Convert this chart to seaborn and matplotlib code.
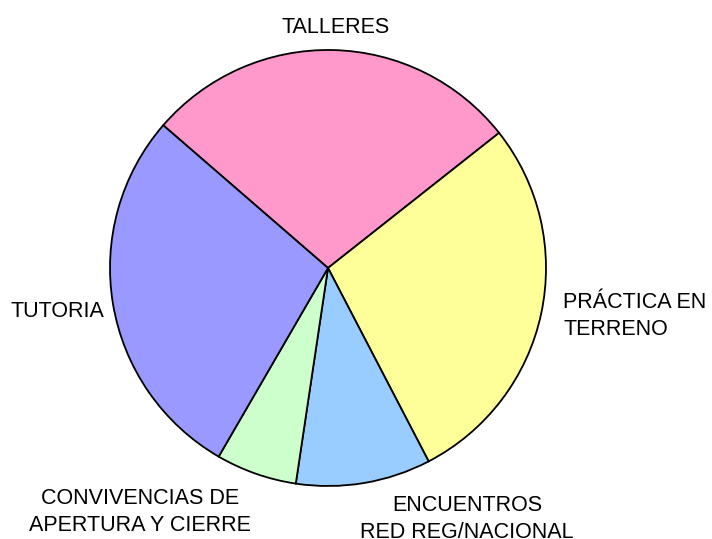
import matplotlib
matplotlib.use('Agg')
import matplotlib.pyplot as plt
import seaborn as sns

sns.set_style('white')
plt.rcParams['font.family'] = ['Liberation Sans', 'DejaVu Sans']
plt.rcParams['text.color'] = 'black'

# activity shares (percent), clockwise from TALLERES
categorias = ['TALLERES', 'PRÁCTICA EN\nTERRENO', 'ENCUENTROS\nRED REG/NACIONAL',
              'CONVIVENCIAS DE\nAPERTURA Y CIERRE', 'TUTORIA']
valores = [28, 28, 10, 6, 28]
colores = ['#FF99CC', '#FFFF99', '#99CCFF', '#CCFFCC', '#9999FF']

# label placement (data units, radius = 1) and alignment
pos_labels = [(0.037, 1.105), (1.078, -0.22), (0.638, -1.15), (-0.862, -1.12), (-1.028, -0.20)]
alin_labels = ['center', 'left', 'center', 'center', 'right']

fig = plt.figure(figsize=(7.12, 5.39), dpi=100)
ax = fig.add_axes([0, 0, 1, 1])

ax.pie(valores, colors=colores, startangle=139.1, counterclock=False,
       wedgeprops=dict(edgecolor='black', linewidth=1.3))

for txt, (x, y), ha in zip(categorias, pos_labels, alin_labels):
    ax.text(x, y, txt, ha=ha, va='center', fontsize=15.5, linespacing=1.38,
            color='black')

ax.set_xlim(-328 / 218, (712 - 328) / 218)
ax.set_ylim(-271 / 218, 268 / 218)
ax.axis('off')

fig.savefig('out.png', dpi=100)
